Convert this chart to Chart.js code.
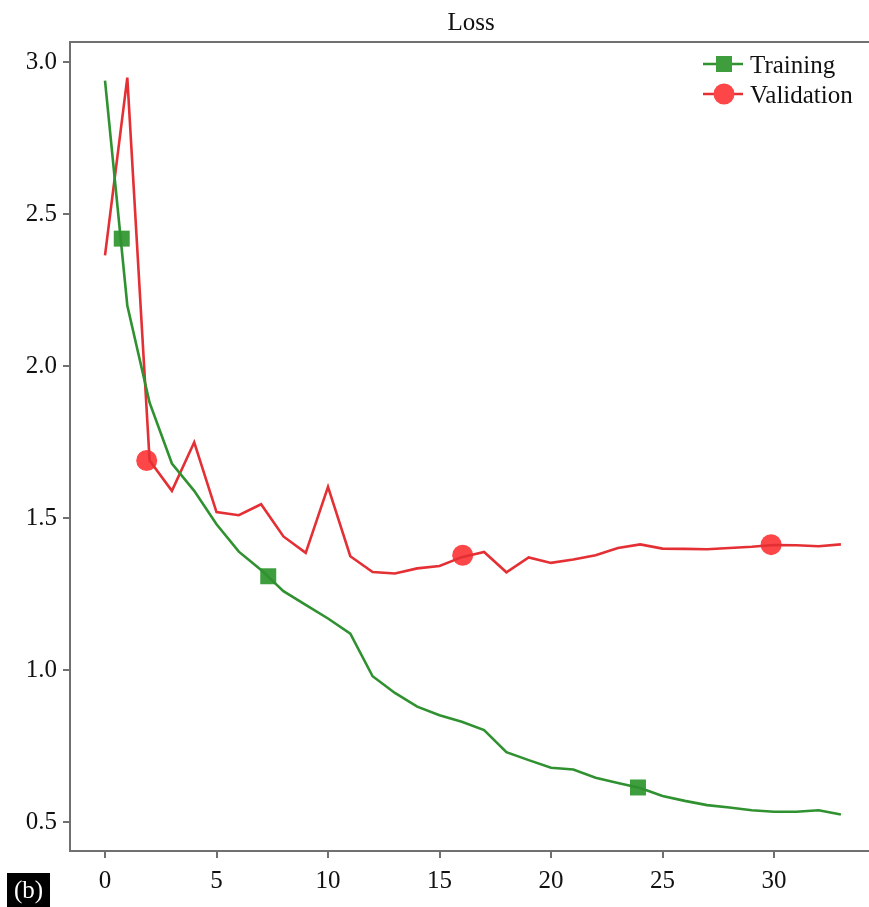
<!DOCTYPE html>
<html>
<head>
<meta charset="utf-8">
<script src="https://cdn.jsdelivr.net/npm/chart.js@4"></script>
<style>
    body { margin: 0; background: #fff; }
    #wrap { width: 869px; height: 907px; }
</style>
</head>
<body>
<div id="wrap"><canvas id="myChart" width="869" height="907"></canvas></div>
<script>
var epochs = [0, 1, 2, 3, 4, 5, 6, 7, 8, 9, 10, 11, 12, 13, 14, 15, 16,
    17, 18, 19, 20, 21, 22, 23, 24, 25, 26, 27, 28, 29, 30, 31, 32, 33];
var trainLoss = [2.94, 2.20, 1.88, 1.68, 1.59, 1.48, 1.39, 1.33, 1.26, 1.215, 1.17, 1.12, 0.98, 0.925, 0.88, 0.852, 0.83,
    0.803, 0.73, 0.704, 0.679, 0.673, 0.646, 0.629, 0.612, 0.586, 0.57, 0.556, 0.548, 0.539, 0.534, 0.534, 0.539, 0.525];
var valLoss = [2.365, 2.95, 1.69, 1.59, 1.75, 1.52, 1.51, 1.546, 1.44, 1.386, 1.603, 1.375, 1.323, 1.318, 1.335, 1.343, 1.372,
    1.389, 1.322, 1.371, 1.353, 1.364, 1.378, 1.402, 1.414, 1.40, 1.399, 1.398, 1.402, 1.406, 1.412, 1.411, 1.408, 1.414];
// marker positions as they sit on the picture
var trainMarkX = [0.75, 7.32, 23.9];
var trainMarkY = [2.42, 1.309, 0.614];
var valMarkX = [1.87, 16.04, 29.87];
var valMarkY = [1.69, 1.378, 1.413];
var xTicks = [0, 5, 10, 15, 20, 25, 30];
var yTicks = [0.5, 1.0, 1.5, 2.0, 2.5, 3.0];
var seriesNames = ['Training', 'Validation'];
var titleText = 'Loss';

var greenLine = 'rgb(48,145,48)', greenMark = 'rgb(62,158,62)';
var redLine = 'rgb(228,48,52)', redMark = 'rgb(252,70,72)';
var axisColor = '#707070';
var serif = "'Liberation Serif', 'DejaVu Serif', serif";

function pairs(xs, ys) {
    return xs.map(function (x, i) { return {x: x, y: ys[i]}; });
}

// title (off-centre, the plot runs past the crop), top frame line, legend and the (b) tag
var extras = {
    id: 'extras',
    afterDraw: function (chart) {
        var c = chart.ctx, a = chart.chartArea;
        c.save();
        c.fillStyle = '#111';
        c.font = '25px ' + serif;
        c.textAlign = 'center';
        c.textBaseline = 'middle';
        c.fillText(titleText, 471, 23);

        c.strokeStyle = axisColor;
        c.lineWidth = 2;
        c.beginPath();
        c.moveTo(a.left - 1, a.top);
        c.lineTo(a.right, a.top);
        c.stroke();

        var rows = [
            {name: seriesNames[0], line: greenLine, mark: greenMark, shape: 'rect', y: a.top + 22},
            {name: seriesNames[1], line: redLine, mark: redMark, shape: 'circle', y: a.top + 52}
        ];
        var x0 = a.right - 166;
        rows.forEach(function (r) {
            c.strokeStyle = r.line;
            c.lineWidth = 2.5;
            c.beginPath();
            c.moveTo(x0, r.y);
            c.lineTo(x0 + 40, r.y);
            c.stroke();
            c.fillStyle = r.mark;
            if (r.shape === 'rect') {
                c.fillRect(x0 + 21 - 8, r.y - 8, 16, 16);
            } else {
                c.beginPath();
                c.arc(x0 + 21, r.y, 10.5, 0, Math.PI * 2);
                c.fill();
            }
            c.fillStyle = '#111';
            c.font = '25px ' + serif;
            c.textAlign = 'left';
            c.textBaseline = 'middle';
            c.fillText(r.name, x0 + 47, r.y + 2);
        });

        c.fillStyle = '#000';
        c.fillRect(7, 873, 43, 34);
        c.fillStyle = '#fff';
        c.font = '25px ' + serif;
        c.textAlign = 'center';
        c.textBaseline = 'middle';
        c.fillText('(b)', 28.5, 891);
        c.restore();
    }
};

var ctx = document.getElementById('myChart').getContext('2d');
var myChart = new Chart(ctx, {
    type: 'line',
    data: {
        datasets: [{
            label: seriesNames[0],
            data: pairs(epochs, trainLoss),
            borderColor: greenLine,
            borderWidth: 2.6,
            pointRadius: 0,
            tension: 0
        }, {
            label: seriesNames[1],
            data: pairs(epochs, valLoss),
            borderColor: redLine,
            borderWidth: 2.6,
            pointRadius: 0,
            tension: 0
        }, {
            label: 'train markers',
            data: pairs(trainMarkX, trainMarkY),
            showLine: false,
            pointStyle: 'rect',
            pointRadius: 11.3,
            pointBorderWidth: 0,
            pointBackgroundColor: greenMark
        }, {
            label: 'val markers',
            data: pairs(valMarkX, valMarkY),
            showLine: false,
            pointStyle: 'circle',
            pointRadius: 10.5,
            pointBorderWidth: 0,
            pointBackgroundColor: redMark
        }]
    },
    options: {
        responsive: false,
        animation: false,
        layout: {padding: {top: 42, left: 0, right: 0, bottom: 0}, autoPadding: false},
        plugins: {
            legend: {display: false},
            tooltip: {enabled: false},
            title: {display: false}
        },
        scales: {
            x: {
                type: 'linear',
                min: -1.57,
                max: 34.26,
                afterBuildTicks: function (scale) {
                    scale.ticks = xTicks.map(function (v) { return {value: v}; });
                },
                afterFit: function (scale) {
                    scale.height = 56;
                    scale.paddingLeft = 0;
                    scale.paddingRight = 0;
                },
                grid: {drawOnChartArea: false, drawTicks: true, tickLength: 7, color: axisColor, lineWidth: 2},
                border: {display: true, color: axisColor, width: 2},
                ticks: {
                    color: '#111',
                    font: {family: serif, size: 25},
                    padding: 8,
                    maxRotation: 0
                }
            },
            y: {
                type: 'linear',
                min: 0.405,
                max: 3.067,
                afterBuildTicks: function (scale) {
                    scale.ticks = yTicks.map(function (v) { return {value: v}; });
                },
                afterFit: function (scale) {
                    scale.width = 70;
                    scale.paddingTop = 0;
                    scale.paddingBottom = 0;
                },
                grid: {drawOnChartArea: false, drawTicks: true, tickLength: 7, color: axisColor, lineWidth: 2},
                border: {display: true, color: axisColor, width: 2},
                ticks: {
                    color: '#111',
                    font: {family: serif, size: 25},
                    padding: 6,
                    callback: function (v) { return v.toFixed(1); }
                }
            }
        }
    },
    plugins: [extras]
});
</script>
</body>
</html>
